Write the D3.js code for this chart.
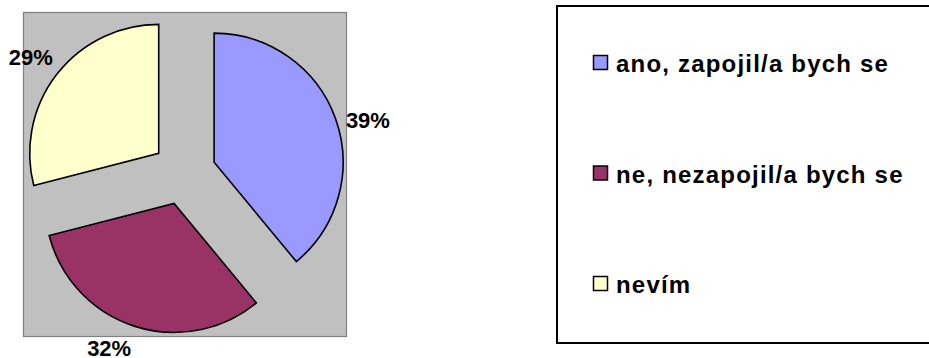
<!DOCTYPE html>
<html>
<head>
<meta charset="utf-8">
<script src="https://cdn.jsdelivr.net/npm/d3@7"></script>
<style>
  html, body { margin: 0; padding: 0; background: #ffffff; }
  svg { display: block; }
  text { font-family: "Liberation Sans", Arial, sans-serif; font-weight: bold; fill: #000; }
</style>
</head>
<body>
<svg id="chart" width="929" height="358"></svg>
<script>
// Survey answers and their shares (percent)
const categories = ["ano, zapojil/a bych se", "ne, nezapojil/a bych se", "nevím"];
const shares = [39, 32, 29];
const sliceColors = ["#9999FF", "#993366", "#FFFFCC"];

const svg = d3.select("#chart");

// Plot area (grey panel)
const plot = { x: 23, y: 12, w: 323, h: 324 };
svg.append("rect")
  .attr("x", plot.x + 0.5).attr("y", plot.y + 0.5)
  .attr("width", plot.w).attr("height", plot.h)
  .attr("fill", "#C0C0C0")
  .attr("stroke", "#808080").attr("stroke-width", 1.2);

// Exploded pie
const cx = 184, cy = 173, radius = 129, explode = 32;
const pie = d3.pie().sort(null).value(d => d)
  .startAngle(0).endAngle(2 * Math.PI);
const arcs = pie(shares);
const arc = d3.arc().innerRadius(0).outerRadius(radius);

const dirOf = a => {
  const m = (a.startAngle + a.endAngle) / 2;
  return [Math.sin(m), -Math.cos(m)];
};

const slices = svg.append("g").attr("transform", `translate(${cx},${cy})`);
slices.selectAll("path")
  .data(arcs)
  .join("path")
  .attr("d", arc)
  .attr("transform", d => {
    const [dx, dy] = dirOf(d);
    return `translate(${dx * explode},${dy * explode})`;
  })
  .attr("fill", (d, i) => sliceColors[i])
  .attr("stroke", "#000")
  .attr("stroke-width", 1.6)
  .attr("stroke-linejoin", "miter");

// Percentage labels, placed just beyond each slice's outer edge
const labelPad = 10;
const labelNudge = [[1, 13], [0, 20], [4, -3]];
slices.selectAll("text")
  .data(arcs)
  .join("text")
  .attr("font-size", 22)
  .attr("text-anchor", d => dirOf(d)[0] > 0 ? "start" : "end")
  .attr("x", (d, i) => dirOf(d)[0] * (explode + radius + labelPad) + labelNudge[i][0])
  .attr("y", (d, i) => dirOf(d)[1] * (explode + radius + labelPad) + labelNudge[i][1])
  .text(d => d3.format("d")(d.value) + "%");

// Legend
const legend = { x: 557, y: 6, w: 380, h: 337 };
svg.append("rect")
  .attr("x", legend.x).attr("y", legend.y)
  .attr("width", legend.w).attr("height", legend.h)
  .attr("fill", "#fff")
  .attr("stroke", "#000").attr("stroke-width", 2);

const rowY = d3.scalePoint().domain(categories).range([72, 293]);
const items = svg.append("g").selectAll("g")
  .data(categories)
  .join("g")
  .attr("transform", d => `translate(593,${rowY(d)})`);

items.append("rect")
  .attr("x", 0.5).attr("y", -16.5)
  .attr("width", 14).attr("height", 14)
  .attr("fill", (d, i) => sliceColors[i])
  .attr("stroke", "#000").attr("stroke-width", 1.5);

items.append("text")
  .attr("x", 23).attr("y", 0)
  .attr("font-size", 24)
  .attr("letter-spacing", "1.2px")
  .text(d => d);
</script>
</body>
</html>
